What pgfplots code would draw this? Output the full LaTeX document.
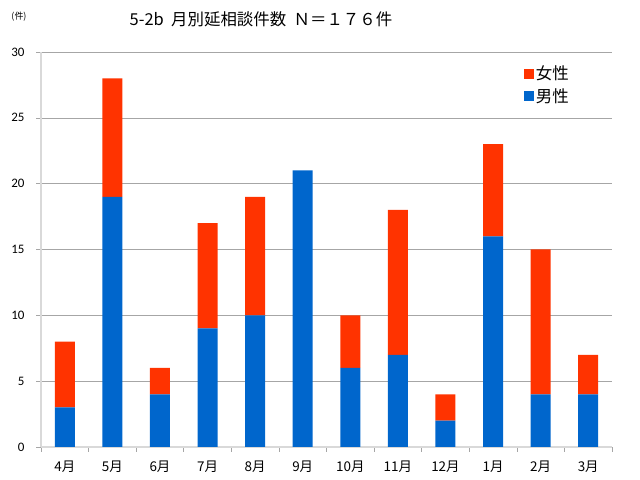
\documentclass[border=0pt]{standalone}
\usepackage{pgfplots}
\pgfplotsset{compat=1.18}
\usepackage{fontspec}
\setmainfont{Carlito}
\newfontfamily\cjk{Noto Sans CJK JP}
\definecolor{fem}{HTML}{FF3300}
\definecolor{mal}{HTML}{0066CC}
\begin{document}
\begin{tikzpicture}[x=1bp,y=1bp]
\useasboundingbox (-41,-33) rectangle (599,447);
\begin{axis}[
  at={(0,0)}, anchor=south west,
  scale only axis, width=571bp, height=395bp,
  ybar stacked, bar width=0.42,
  xmin=-0.5, xmax=11.5, ymin=0, ymax=30,
  xtick={0,...,11},
  xticklabels={4月,5月,6月,7月,8月,9月,10月,11月,12月,1月,2月,3月},
  minor xtick={-0.5,0.5,...,11.5},
  major x tick style={draw=none},
  minor x tick style={draw=gray!70, line width=0.6pt},
  minor tick length=5bp,
  major tick length=5bp,
  tick align=outside,
  ytick={0,5,...,30},
  major y tick style={draw=gray!70, line width=0.6pt},
  ymajorgrids, grid style={gray!70, line width=0.6pt},
  axis x line*=bottom, axis y line*=left,
  x axis line style={draw=gray!30, line width=1.5pt, -},
  y axis line style={draw=gray!30, line width=1.5pt, -},
  xticklabel style={font=\cjk\fontsize{13.5}{15}\selectfont, yshift=-5bp},
  yticklabel style={font=\fontsize{13}{15}\selectfont, xshift=-8bp},
  /pgf/number format/assume math mode=true,
  legend style={at={(0.84,0.975)}, anchor=north west, draw=none, fill=none,
    font=\cjk\fontsize{16.5}{19}\selectfont, row sep=3bp},
  legend image code/.code={\fill[#1] (0bp,-5bp) rectangle (10bp,5bp);},
  reverse legend,
  clip=false,
]
\addplot[fill=mal, draw=none] coordinates {(0,3) (1,19) (2,4) (3,9) (4,10) (5,21) (6,6) (7,7) (8,2) (9,16) (10,4) (11,4)};
\addlegendentry{男性}
\addplot[fill=fem, draw=none] coordinates {(0,5) (1,9) (2,2) (3,8) (4,9) (5,0) (6,4) (7,11) (8,2) (9,7) (10,11) (11,3)};
\addlegendentry{女性}
\end{axis}
\node[font=\cjk\fontsize{16.5}{20}\selectfont] at (220,428) {5-2b\ \ 月別延相談件数\ \ Ｎ＝１７６件};
\node[font=\cjk\fontsize{9}{11}\selectfont] at (-22,430) {(件)};
\end{tikzpicture}
\end{document}
